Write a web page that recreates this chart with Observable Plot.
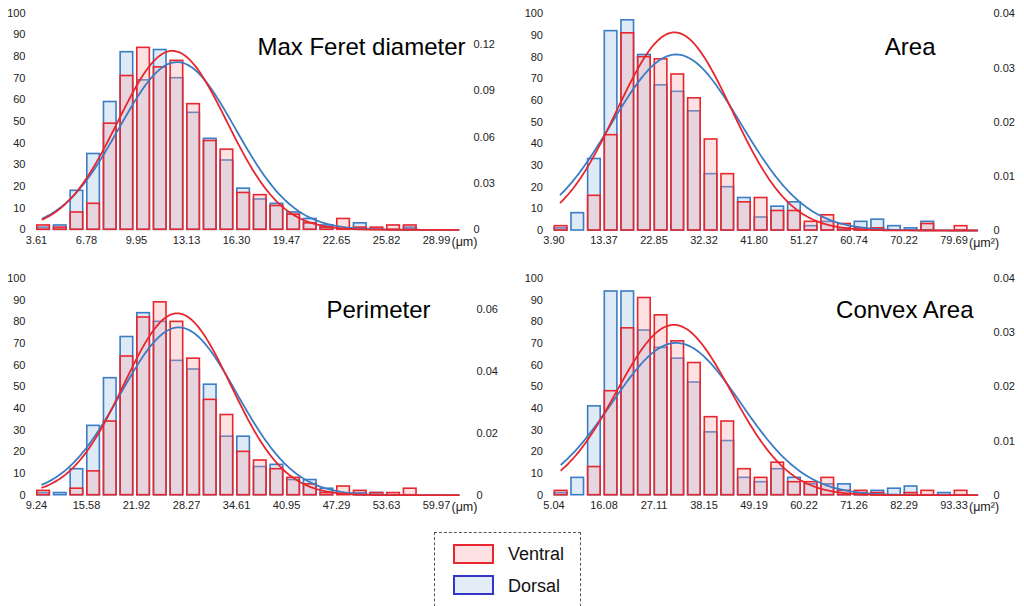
<!DOCTYPE html>
<html><head><meta charset="utf-8">
<script src="https://cdn.jsdelivr.net/npm/d3@7"></script>
<script src="https://cdn.jsdelivr.net/npm/@observablehq/plot@0.6"></script>
<style>
body{margin:0;background:#fff;font-family:"Liberation Sans",Arial,sans-serif;}
#wrap{position:relative;width:1024px;height:606px;overflow:hidden;background:#fff;}
.panel{position:absolute;}
#legend{position:absolute;left:434px;top:532px;width:147px;height:90px;border:1.5px dashed #555;box-sizing:border-box;}
#legend .sw{position:absolute;width:37px;height:16px;border:2px solid;}
#legend .lab{position:absolute;font-size:18px;line-height:20px;height:20px;color:#111;}
</style></head>
<body><div id="wrap"></div>
<script>
// ---------- data ----------
const seriesNames = ["Ventral", "Dorsal"];
const panelTitles = ["Max Feret diameter", "Area", "Perimeter", "Convex Area"];
const unitLabels = ["(μm)", "(μm²)", "(μm)", "(μm²)"];
const countTicks = [0, 10, 20, 30, 40, 50, 60, 70, 80, 90, 100];

const feretTicks = [3.61, 6.78, 9.95, 13.13, 16.30, 19.47, 22.65, 25.82, 28.99];
const areaTicks = [3.90, 13.37, 22.85, 32.32, 41.80, 51.27, 60.74, 70.22, 79.69];
const perimeterTicks = [9.24, 15.58, 21.92, 28.27, 34.61, 40.95, 47.29, 53.63, 59.97];
const convexTicks = [5.04, 16.08, 27.11, 38.15, 49.19, 60.22, 71.26, 82.29, 93.33];

const feretVentral = [2,1,8,12,49,71,84,75,78,58,41,37,17,16,11,7,3,1,5,1,1,2,2];
const feretDorsal  = [1,2,18,35,59,82,69,83,70,54,42,32,19,14,12,8,5,2,0,3,0,0,1];
const areaVentral  = [2,0,16,44,91,80,79,72,61,42,26,13,15,9,9,4,7,3,1,1,0,0,3,0,2];
const areaDorsal   = [1,8,33,92,97,81,67,64,55,26,20,15,6,11,13,2,4,1,4,5,2,1,4,0,0];
const perimeterVentral = [2,0,3,11,34,64,82,89,80,63,44,37,20,16,12,8,5,1,4,2,1,1,3];
const perimeterDorsal  = [1,1,12,32,54,73,84,80,62,58,51,27,27,13,14,7,7,3,0,1,1,0,0];
const convexVentral = [2,0,13,48,77,91,83,71,61,36,34,12,8,15,6,6,8,2,2,1,0,1,2,0,2];
const convexDorsal  = [1,8,41,94,94,76,68,63,52,29,25,8,6,12,8,5,5,5,1,2,3,4,0,1,0];

// right (density) axis
const feretDensityTicks = [0, 0.03, 0.06, 0.09, 0.12];
const areaDensityTicks = [0, 0.01, 0.02, 0.03, 0.04];
const perimeterDensityTicks = [0, 0.02, 0.04, 0.06];
const convexDensityTicks = [0, 0.01, 0.02, 0.03, 0.04];
const densityAtTop = [0.14, 0.04, 0.07, 0.04]; // density level aligned with 100 counts

// fitted normal curves (mean, sd)
const ventralMean = [12.23, 26.72, 27.08, 31.49];
const ventralSD   = [3.45, 10.91, 6.79, 12.69];
const dorsalMean  = [12.53, 27.04, 27.28, 32.02];
const dorsalSD    = [3.68, 12.28, 7.36, 14.19];
const curveStart  = [3.99, 5.13, 9.96, 6.63];
const curveEnd    = [30.4, 84.1, 62.8, 98.5];

// ---------- layout / style ----------
const tickSets = [feretTicks, areaTicks, perimeterTicks, convexTicks];
const ventralSets = [feretVentral, areaVentral, perimeterVentral, convexVentral];
const dorsalSets = [feretDorsal, areaDorsal, perimeterDorsal, convexDorsal];
const densityTickSets = [feretDensityTicks, areaDensityTicks, perimeterDensityTicks, convexDensityTicks];

const layout = [
  {left: 0,   top: 0,   ml: 36,   mr: 76,   mt: 12.7, mb: 32.7, titleX: 465, titleY: 47, rightPad: 37},
  {left: 512, top: 0,   ml: 41.5, mr: 70.5, mt: 13.3, mb: 32,   titleX: 423, titleY: 47, rightPad: 39.5},
  {left: 0,   top: 262, ml: 36,   mr: 76,   mt: 16,   mb: 29.3, titleX: 430, titleY: 48, rightPad: 40},
  {left: 512, top: 262, ml: 41.5, mr: 70.5, mt: 16,   mb: 29.3, titleX: 461, titleY: 48, rightPad: 39.5}
];
const RED = "#e8262d", BLUE = "#3b7cc4";
const RED_FILL = "rgb(248,158,165)", BLUE_FILL = "#deebf7";

const pdf = (x, m, s) => Math.exp(-0.5 * ((x - m) / s) ** 2) / (s * Math.sqrt(2 * Math.PI));

const wrap = document.getElementById("wrap");

for (let k = 0; k < 4; k++) {
  const ticks = tickSets[k];
  const L = layout[k];
  const t0 = ticks[0], tN = ticks[ticks.length - 1];
  const bw = (tN - t0) / 24;
  const toBars = arr => arr.map((v, i) => ({x1: t0 + i * bw, x2: t0 + (i + 1) * bw, y: v})).filter(d => d.y > 0);
  const ventralBars = toBars(ventralSets[k]);
  const dorsalBars = toBars(dorsalSets[k]);
  const cpd = 100 / densityAtTop[k]; // counts per density unit
  const curve = (m, s) => d3.range(0, 241).map(j => {
    const x = curveStart[k] + (curveEnd[k] - curveStart[k]) * j / 240;
    return {x, y: pdf(x, m, s) * cpd};
  });
  const ventralCurve = curve(ventralMean[k], ventralSD[k]);
  const dorsalCurve = curve(dorsalMean[k], dorsalSD[k]);

  const chart = Plot.plot({
    width: 512, height: 262,
    marginLeft: L.ml, marginRight: L.mr, marginTop: L.mt, marginBottom: L.mb,
    x: {domain: [t0, tN]},
    y: {domain: [0, 100]},
    style: {fontFamily: '"Liberation Sans", Arial, sans-serif', fontSize: "11px", color: "#222", background: "transparent", overflow: "visible"},
    marks: [
      Plot.rectY(dorsalBars, {x1: "x1", x2: "x2", y: "y", fill: BLUE_FILL, stroke: BLUE, strokeWidth: 1.6, insetLeft: 0.8, insetRight: 3.3}),
      Plot.rectY(ventralBars, {x1: "x1", x2: "x2", y: "y", fill: RED_FILL, fillOpacity: 0.3, stroke: RED, strokeWidth: 1.6, insetLeft: 0.8, insetRight: 3.3}),
      Plot.line(dorsalCurve, {x: "x", y: "y", stroke: BLUE, strokeWidth: 1.8}),
      Plot.line(ventralCurve, {x: "x", y: "y", stroke: RED, strokeWidth: 1.8}),
      Plot.axisX({ticks: ticks, tickSize: 0, tickPadding: 6, tickFormat: d => d.toFixed(2), label: null, fontSize: 11}),
      Plot.axisY({ticks: countTicks, tickSize: 0, tickPadding: 11, label: null, fontSize: 11}),
      Plot.axisY({anchor: "right", ticks: densityTickSets[k].map(d => d * cpd), tickSize: 0, tickPadding: L.rightPad,
                  tickFormat: d => String(+(d / cpd).toFixed(3)), label: null, fontSize: 11}),
      Plot.text([unitLabels[k]], {x: () => tN, frameAnchor: "bottom", dy: 12, dx: 15, textAnchor: "start", lineAnchor: "middle", fontSize: 12.5, fill: "#222"}),
      Plot.text([panelTitles[k]], {frameAnchor: "top-left", dx: L.titleX - L.ml, dy: L.titleY - L.mt, textAnchor: "end", lineAnchor: "middle", fontSize: 24, fill: "#000"})
    ]
  });
  chart.classList.add("panel");
  chart.style.left = L.left + "px";
  chart.style.top = L.top + "px";
  wrap.appendChild(chart);
}

// legend
const legend = document.createElement("div");
legend.id = "legend";
const legendColors = [[RED, "#fde0e2"], ["#3535c8", "#e3edf8"]];
seriesNames.forEach((name, i) => {
  const sw = document.createElement("div");
  sw.className = "sw";
  sw.style.left = "18px";
  sw.style.top = (11 + i * 31) + "px";
  sw.style.borderColor = legendColors[i][0];
  sw.style.background = legendColors[i][1];
  legend.appendChild(sw);
  const lab = document.createElement("div");
  lab.className = "lab";
  lab.style.left = "73px";
  lab.style.top = (11 + i * 32) + "px";
  lab.textContent = name;
  legend.appendChild(lab);
});
wrap.appendChild(legend);
</script>
</body></html>
